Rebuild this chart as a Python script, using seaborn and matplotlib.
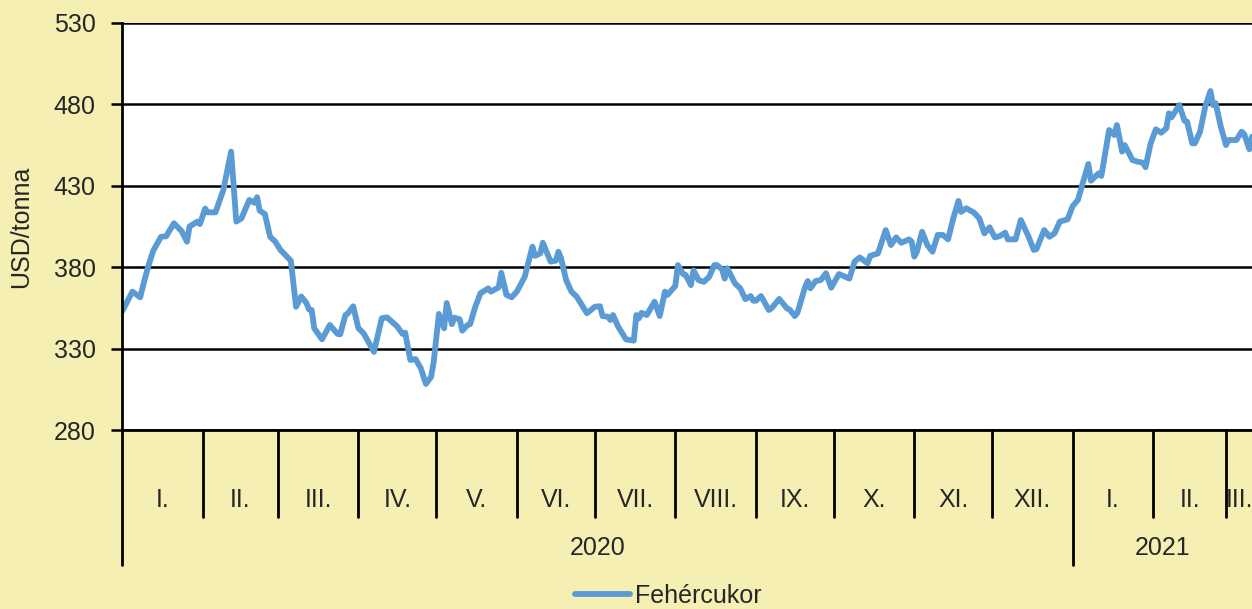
import numpy as np
import pandas as pd
import seaborn as sns
import matplotlib.pyplot as plt
import matplotlib.transforms as mtransforms

# days since 2020-01-01 and white sugar price (USD/tonna)
day = [0, 4, 7, 8, 10, 12, 15, 17, 20, 23, 25, 26, 29, 30, 32, 33, 36, 39, 42, 44,
       46, 49, 51, 52, 53, 55, 57, 59, 61, 65, 67, 69, 71, 72, 73, 74, 77, 80, 83, 84,
       86, 87, 89, 91, 93, 97, 100, 101, 102, 106, 108, 109, 111, 113, 115, 117, 119, 120, 122, 124,
       125, 127, 128, 130, 131, 133, 134, 136, 138, 141, 142, 145, 146, 148, 150, 152, 155, 158, 159, 161,
       162, 165, 167, 168, 169, 171, 173, 175, 177, 179, 182, 184, 185, 187, 188, 189, 191, 194, 197, 198,
       199, 200, 202, 205, 207, 209, 210, 213, 214, 216, 217, 219, 220, 222, 224, 226, 228, 229, 231, 232,
       233, 236, 238, 240, 242, 243, 244, 246, 249, 250, 253, 256, 257, 259, 260, 263, 264, 265, 267, 269,
       271, 273, 276, 280, 282, 284, 287, 288, 291, 294, 296, 298, 300, 303, 304, 305, 306, 308, 310, 312,
       314, 316, 318, 320, 322, 323, 325, 328, 330, 332, 334, 336, 338, 340, 341, 344, 346, 349, 351, 352,
       355, 357, 359, 361, 364, 366, 368, 370, 372, 373, 376, 377, 380, 382, 383, 385, 386, 389, 391, 393,
       394, 396, 398, 400, 402, 403, 404, 407, 409, 410, 412, 413, 415, 417, 419, 420, 421, 423, 425, 426,
       429, 431, 432, 434, 435]
price = [352.7, 365, 361.5, 368, 380, 390, 398.7, 399, 407, 402, 395.7, 405, 408, 406.5, 416, 413.7, 413.7, 427.4, 451, 408,
         410, 421.3, 419.6, 423, 414.7, 412.7, 398.7, 395.7, 390.6, 384, 355.7, 362, 358, 354, 353.7, 342.5, 335.7, 344.5, 339, 338.8,
         350.6, 351.7, 356, 342.5, 339.4, 328, 348.6, np.nan, 349.2, 343.5, 339, 339.8, 323, 323.6, 318, 308.3, 312.7, 322, 351.3, 342.5,
         358, 345, 349, 348, 341, 344.5, 345, 355.7, 364, 367, 365, 367.6, 376.6, 363, 361.5, 365, 374, 392.6, 387, 388.5,
         395, 383.4, 384, 389.5, 385.5, 372, 365, 362, 356.8, 351.7, 355.7, 356, 350, 349.6, 347.6, 350.6, 343.5, 335.7, 334.9, 350.6,
         348.6, 352, 350.6, 358.8, 350, 365, 363, 368.5, 381.3, 375.8, 375.2, 369, 378, 372, 371, 374, 381.3, 381.3, 378.7, 373,
         379.3, 370, 367, 360.3, 362.3, 359.4, 359.4, 362.3, 353.7, 354.7, 360.5, 354.7, 354, 350, 352, 368, 371.5, 367, 371.5, 372.1,
         376.3, 367.4, 375.8, 373, 383.4, 386, 382.4, 386.9, 388.5, 402.8, 393.6, 398.3, 395, 397.1, 395.7, 386.5, 389.5, 401.8, 393.6, 389.5,
         399.8, 399.8, 397.1, 410, 420.7, 414, 416.2, 413.5, 410, 400.8, 404.5, 398.3, 399.2, 401.2, 397.1, 397.1, 409, 398.7, 390.6, 391,
         402.8, 398.7, 400.8, 408, 409.4, 417.6, 421.3, 432.5, 443.4, 433.1, 437.7, 436, 464.3, 461.2, 467.3, 451, 455, 445.8, 444.8, 444.2,
         441.4, 456.1, 464.7, 462.6, 465.3, 474.5, 472, 479.6, 470, 469.4, 456.1, 456.1, 463.2, 478.6, 488.2, 479.6, 480.7, 466.3, 455, 458.1,
         458.1, 463.2, 461.8, 452.4, 460.2]

month_labels = ["I.", "II.", "III.", "IV.", "V.", "VI.", "VII.", "VIII.", "IX.", "X.", "XI.", "XII.",
                "I.", "II.", "III."]
years = ["2020", "2021"]
series_name = "Fehércukor"

start = pd.Timestamp("2020-01-01")
end = pd.Timestamp("2021-03-11")
df = pd.DataFrame({"date": start + pd.to_timedelta(day, unit="D"), "price": price})

sns.set_style("white")
plt.rcParams["font.family"] = ["Liberation Sans", "DejaVu Sans"]
bg = "#F5EFB4"
fs = 18

fig = plt.figure(figsize=(12.52, 6.09), dpi=100, facecolor=bg)
ax = fig.add_axes([122 / 1252, 1 - 430 / 609, 1 - 122 / 1252, 407 / 609])
ax.set_facecolor("white")

sns.lineplot(data=df, x="date", y="price", ax=ax, color="#5B9BD5", linewidth=4.2,
             label=series_name, legend=False)

ax.set_ylim(280, 530)
ax.set_yticks(np.arange(280, 531, 50))
ax.set_xlim(start, end)
ax.grid(axis="y", color="black", linewidth=1.8)
ax.set_axisbelow(True)
ax.set_xticks([])
ax.set_xlabel("")
ax.set_ylabel("USD/tonna", fontsize=fs)
ax.yaxis.set_label_coords(-0.079, 0.5)
ax.tick_params(axis="y", direction="out", length=8, width=1.8, color="black",
               labelsize=fs, pad=11, left=True)
for side in ["top", "right"]:
    ax.spines[side].set_visible(False)
ax.spines["left"].set_color("black")
ax.spines["left"].set_linewidth(2)
ax.spines["bottom"].set_color("black")
ax.spines["bottom"].set_linewidth(2)

# month / year category axis underneath
trans = mtransforms.blended_transform_factory(ax.transData, ax.transAxes)
bounds = pd.date_range("2020-01-01", periods=len(month_labels) + 1, freq="MS")
short_y = -87 / 407
long_y = -135 / 407
for i, lab in enumerate(month_labels):
    b0 = bounds[i]
    b1 = min(bounds[i + 1], end)
    y_end = long_y if b0.month == 1 else short_y
    ax.plot([b0, b0], [0, y_end], color="black", lw=2, transform=trans, clip_on=False)
    mid = b0 + (b1 - b0) / 2
    ax.text(mid, -70 / 407, lab, transform=trans, ha="center", va="center", fontsize=fs)

year_starts = [pd.Timestamp("2020-01-01"), pd.Timestamp("2021-01-01"), end]
for i, yr in enumerate(years):
    mid = year_starts[i] + (year_starts[i + 1] - year_starts[i]) / 2
    ax.text(mid, -118 / 407, yr, transform=trans, ha="center", va="center", fontsize=fs)

fig.legend(loc="center", bbox_to_anchor=(0.534, 1 - 596 / 609), frameon=False,
           fontsize=fs, handlelength=2.2, handletextpad=0.2)

fig.savefig("out.png", dpi=100, facecolor=bg)
